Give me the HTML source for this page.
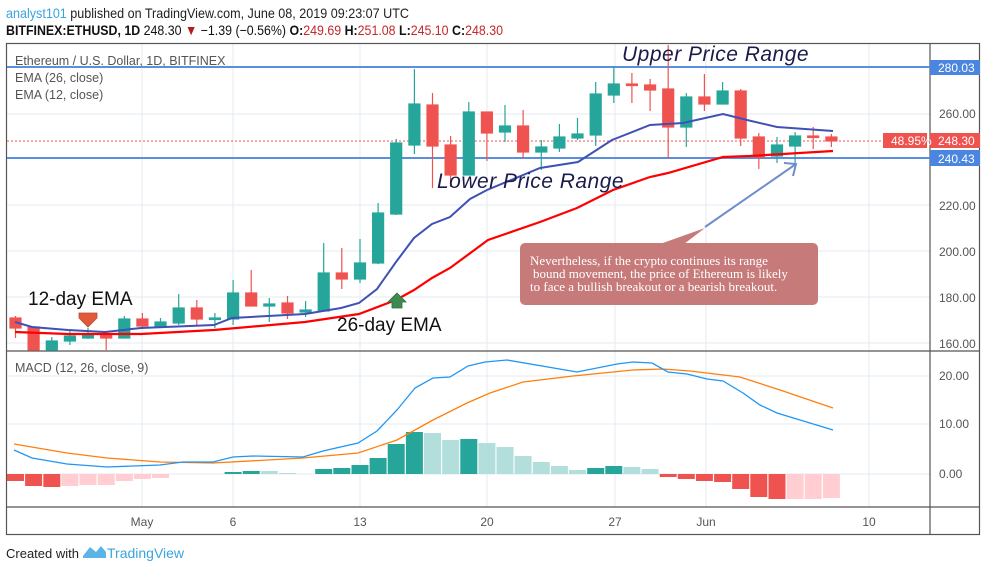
<!DOCTYPE html>
<html><head><meta charset="utf-8"><style>
body{margin:0;background:#fff;width:987px;height:571px;overflow:hidden;font-family:"Liberation Sans",sans-serif}
</style></head><body>
<svg width="987" height="571" xmlns="http://www.w3.org/2000/svg" font-family="Liberation Sans, sans-serif">
<rect width="987" height="571" fill="#fff"/>
<text x="6" y="18" font-size="14" fill="#222" textLength="403" lengthAdjust="spacingAndGlyphs"><tspan fill="#3aa4de">analyst101</tspan> published on TradingView.com, June 08, 2019 09:23:07 UTC</text>
<text x="6" y="35" font-size="14" fill="#111" textLength="497" lengthAdjust="spacingAndGlyphs"><tspan font-weight="bold">BITFINEX:ETHUSD, 1D</tspan> 248.30 <tspan fill="#b71c1c">▼</tspan> −1.39 (−0.56%) <tspan font-weight="bold">O:</tspan><tspan fill="#c62828">249.69</tspan> <tspan font-weight="bold">H:</tspan><tspan fill="#c62828">251.08</tspan> <tspan font-weight="bold">L:</tspan><tspan fill="#c62828">245.10</tspan> <tspan font-weight="bold">C:</tspan><tspan fill="#c62828">248.30</tspan></text>
<!-- grid -->
<g stroke="#e3ebf2" stroke-width="1">
<line x1="7" x2="930" y1="343" y2="343"/><line x1="7" x2="930" y1="297" y2="297"/><line x1="7" x2="930" y1="251" y2="251"/><line x1="7" x2="930" y1="205" y2="205"/><line x1="7" x2="930" y1="114" y2="114"/>
<line x1="7" x2="930" y1="376" y2="376"/><line x1="7" x2="930" y1="424" y2="424"/><line x1="7" x2="930" y1="474" y2="474"/>
<line x1="142" x2="142" y1="43" y2="507"/><line x1="233" x2="233" y1="43" y2="507"/><line x1="360" x2="360" y1="43" y2="507"/><line x1="487" x2="487" y1="43" y2="507"/><line x1="615" x2="615" y1="43" y2="507"/><line x1="706" x2="706" y1="43" y2="507"/><line x1="869" x2="869" y1="43" y2="507"/>
</g>
<!-- frame -->
<g stroke="#555" stroke-width="1.2" fill="none">
<rect x="6.5" y="43.5" width="973" height="491"/>
<line x1="6" x2="980" y1="351" y2="351"/><line x1="6" x2="980" y1="507" y2="507"/><line x1="930" x2="930" y1="43" y2="535"/>
</g>
<text x="15" y="65" font-size="12.5" fill="#555">Ethereum / U.S. Dollar, 1D, BITFINEX</text>
<text x="15" y="82" font-size="12.5" fill="#555">EMA (26, close)</text>
<text x="15" y="99" font-size="12.5" fill="#555">EMA (12, close)</text>
<!-- range lines -->
<line x1="7" x2="930" y1="67" y2="67" stroke="#5b8de0" stroke-width="2"/>
<line x1="7" x2="930" y1="158" y2="158" stroke="#5b8de0" stroke-width="2"/>
<line x1="7" x2="930" y1="141" y2="141" stroke="#ef5350" stroke-width="1" stroke-dasharray="2,2"/>
<!-- candles -->
<g stroke-width="1.2">
<g stroke="#ef5350" fill="#ef5350"><line x1="15.5" x2="15.5" y1="316" y2="338"/><rect x="10" y="318" width="11" height="10"/></g>
<g stroke="#ef5350" fill="#ef5350"><line x1="33.6" x2="33.6" y1="327" y2="350"/><rect x="28.1" y="327" width="11" height="23"/></g>
<g stroke="#26a69a" fill="#26a69a"><line x1="51.8" x2="51.8" y1="337" y2="350"/><rect x="46.3" y="341" width="11" height="9"/></g>
<g stroke="#26a69a" fill="#26a69a"><line x1="69.9" x2="69.9" y1="329" y2="345"/><rect x="64.4" y="336" width="11" height="5"/></g>
<g stroke="#26a69a" fill="#26a69a"><line x1="88" x2="88" y1="328" y2="339"/><rect x="82.5" y="335" width="11" height="3"/></g>
<g stroke="#ef5350" fill="#ef5350"><line x1="106.2" x2="106.2" y1="332" y2="350"/><rect x="100.7" y="334" width="11" height="4"/></g>
<g stroke="#26a69a" fill="#26a69a"><line x1="124.3" x2="124.3" y1="316" y2="338"/><rect x="118.8" y="319" width="11" height="19"/></g>
<g stroke="#ef5350" fill="#ef5350"><line x1="142.4" x2="142.4" y1="313" y2="329"/><rect x="136.9" y="319" width="11" height="7"/></g>
<g stroke="#26a69a" fill="#26a69a"><line x1="160.5" x2="160.5" y1="318" y2="328"/><rect x="155" y="322" width="11" height="4"/></g>
<g stroke="#26a69a" fill="#26a69a"><line x1="178.7" x2="178.7" y1="294" y2="325"/><rect x="173.2" y="308" width="11" height="15"/></g>
<g stroke="#ef5350" fill="#ef5350"><line x1="196.8" x2="196.8" y1="300" y2="326"/><rect x="191.3" y="308" width="11" height="11"/></g>
<g stroke="#26a69a" fill="#26a69a"><line x1="214.9" x2="214.9" y1="313" y2="328"/><rect x="209.4" y="318" width="11" height="1.5"/></g>
<g stroke="#26a69a" fill="#26a69a"><line x1="233.1" x2="233.1" y1="280" y2="325"/><rect x="227.6" y="293" width="11" height="26"/></g>
<g stroke="#ef5350" fill="#ef5350"><line x1="251.2" x2="251.2" y1="270" y2="306"/><rect x="245.7" y="293" width="11" height="13"/></g>
<g stroke="#26a69a" fill="#26a69a"><line x1="269.3" x2="269.3" y1="298" y2="322"/><rect x="263.8" y="304" width="11" height="2"/></g>
<g stroke="#ef5350" fill="#ef5350"><line x1="287.5" x2="287.5" y1="296" y2="319"/><rect x="282" y="303" width="11" height="10"/></g>
<g stroke="#26a69a" fill="#26a69a"><line x1="305.6" x2="305.6" y1="301" y2="317"/><rect x="300.1" y="310" width="11" height="2"/></g>
<g stroke="#26a69a" fill="#26a69a"><line x1="323.7" x2="323.7" y1="243" y2="311"/><rect x="318.2" y="273" width="11" height="38"/></g>
<g stroke="#ef5350" fill="#ef5350"><line x1="341.8" x2="341.8" y1="248" y2="289"/><rect x="336.3" y="273" width="11" height="6"/></g>
<g stroke="#26a69a" fill="#26a69a"><line x1="360" x2="360" y1="239" y2="283"/><rect x="354.5" y="263" width="11" height="16"/></g>
<g stroke="#26a69a" fill="#26a69a"><line x1="378.1" x2="378.1" y1="203" y2="264"/><rect x="372.6" y="213" width="11" height="50"/></g>
<g stroke="#26a69a" fill="#26a69a"><line x1="396.2" x2="396.2" y1="139" y2="215"/><rect x="390.7" y="143" width="11" height="71"/></g>
<g stroke="#26a69a" fill="#26a69a"><line x1="414.4" x2="414.4" y1="69" y2="154"/><rect x="408.9" y="104" width="11" height="41"/></g>
<g stroke="#ef5350" fill="#ef5350"><line x1="432.5" x2="432.5" y1="93" y2="188"/><rect x="427" y="105" width="11" height="41"/></g>
<g stroke="#ef5350" fill="#ef5350"><line x1="450.6" x2="450.6" y1="136" y2="187"/><rect x="445.1" y="145" width="11" height="30"/></g>
<g stroke="#26a69a" fill="#26a69a"><line x1="468.8" x2="468.8" y1="102" y2="175"/><rect x="463.3" y="112" width="11" height="63"/></g>
<g stroke="#ef5350" fill="#ef5350"><line x1="486.9" x2="486.9" y1="112" y2="161"/><rect x="481.4" y="112" width="11" height="21"/></g>
<g stroke="#26a69a" fill="#26a69a"><line x1="505" x2="505" y1="105" y2="142"/><rect x="499.5" y="126" width="11" height="6"/></g>
<g stroke="#ef5350" fill="#ef5350"><line x1="523.1" x2="523.1" y1="110" y2="158"/><rect x="517.6" y="126" width="11" height="26"/></g>
<g stroke="#26a69a" fill="#26a69a"><line x1="541.3" x2="541.3" y1="140" y2="170"/><rect x="535.8" y="147" width="11" height="5"/></g>
<g stroke="#26a69a" fill="#26a69a"><line x1="559.4" x2="559.4" y1="124" y2="152"/><rect x="553.9" y="137" width="11" height="11"/></g>
<g stroke="#26a69a" fill="#26a69a"><line x1="577.5" x2="577.5" y1="118" y2="140"/><rect x="572" y="134" width="11" height="4"/></g>
<g stroke="#26a69a" fill="#26a69a"><line x1="595.7" x2="595.7" y1="82" y2="146"/><rect x="590.2" y="94" width="11" height="41"/></g>
<g stroke="#26a69a" fill="#26a69a"><line x1="613.8" x2="613.8" y1="66" y2="103"/><rect x="608.3" y="84" width="11" height="11"/></g>
<g stroke="#ef5350" fill="#ef5350"><line x1="631.9" x2="631.9" y1="73" y2="103"/><rect x="626.4" y="84" width="11" height="1.5"/></g>
<g stroke="#ef5350" fill="#ef5350"><line x1="650.1" x2="650.1" y1="79" y2="111"/><rect x="644.6" y="85" width="11" height="5"/></g>
<g stroke="#ef5350" fill="#ef5350"><line x1="668.2" x2="668.2" y1="45" y2="158"/><rect x="662.7" y="89" width="11" height="38"/></g>
<g stroke="#26a69a" fill="#26a69a"><line x1="686.3" x2="686.3" y1="93" y2="147"/><rect x="680.8" y="97" width="11" height="30"/></g>
<g stroke="#ef5350" fill="#ef5350"><line x1="704.4" x2="704.4" y1="74" y2="111"/><rect x="698.9" y="97" width="11" height="7"/></g>
<g stroke="#26a69a" fill="#26a69a"><line x1="722.6" x2="722.6" y1="82" y2="104"/><rect x="717.1" y="91" width="11" height="13"/></g>
<g stroke="#ef5350" fill="#ef5350"><line x1="740.7" x2="740.7" y1="89" y2="146"/><rect x="735.2" y="91" width="11" height="47"/></g>
<g stroke="#ef5350" fill="#ef5350"><line x1="758.8" x2="758.8" y1="133" y2="169"/><rect x="753.3" y="137" width="11" height="20"/></g>
<g stroke="#26a69a" fill="#26a69a"><line x1="777" x2="777" y1="137" y2="163"/><rect x="771.5" y="145" width="11" height="11"/></g>
<g stroke="#26a69a" fill="#26a69a"><line x1="795.1" x2="795.1" y1="132" y2="163"/><rect x="789.6" y="136" width="11" height="10"/></g>
<g stroke="#ef5350" fill="#ef5350"><line x1="813.2" x2="813.2" y1="127" y2="149"/><rect x="807.7" y="136" width="11" height="1.5"/></g>
<g stroke="#ef5350" fill="#ef5350"><line x1="831.4" x2="831.4" y1="134" y2="147"/><rect x="825.9" y="137" width="11" height="4"/></g>
</g>
<!-- EMAs -->
<polyline fill="none" stroke="#3f51b5" stroke-width="2" points="15,322 32,327 68,330 105,332 141,328 214,325 232,318 268,316 305,314 341,308 359,303 377,289 396,262 414,238 432,224 450,217 470,199 487,190 540,168 578,162 612,140 650,125 683,123 723,114 747,120 777,127 833,131"/>
<polyline fill="none" stroke="#ff0000" stroke-width="2.2" points="15,332 68,334 141,334 214,330 305,322 359,314 396,300 414,290 432,278 450,268 488,240 540,222 577,208 613,190 650,177 668,173 723,157 750,156 833,151"/>
<!-- annotations -->
<text x="622" y="61" font-size="21" font-style="italic" fill="#1b1b4b" letter-spacing="0.5">Upper Price Range</text>
<text x="437" y="188" font-size="21" font-style="italic" fill="#1b1b4b" letter-spacing="0.5">Lower Price Range</text>
<text x="28" y="305" font-size="19" fill="#111">12-day EMA</text>
<text x="337" y="331" font-size="19" fill="#111">26-day EMA</text>
<polygon points="79,313 97,313 97,318 88,327 79,318" fill="#e05a3a" stroke="#b84a30" stroke-width="0.8"/>
<polygon points="397,293 406,302 402,302 402,308 392,308 392,302 388,302" fill="#3d8a50" stroke="#2f6e3f" stroke-width="0.8"/>
<line x1="705" y1="227" x2="796" y2="164" stroke="#6f8ccc" stroke-width="2"/>
<polyline points="784,163 796,164 793,176" fill="none" stroke="#6f8ccc" stroke-width="2"/>
<polygon points="660,244 705,228 684,244" fill="#c77a7a"/>
<rect x="520" y="243" width="298" height="62" rx="5" fill="#c77a7a"/>
<g font-family="Liberation Serif, serif" font-size="13" fill="#fff">
<text x="530" y="265">Nevertheless, if the crypto continues its range</text>
<text x="533" y="278">bound movement, the price of Ethereum is likely</text>
<text x="530" y="291">to face a bullish breakout or a bearish breakout.</text>
</g>
<!-- price axis -->
<g font-size="12" fill="#555">
<text x="939" y="118">260.00</text><text x="939" y="210">220.00</text><text x="939" y="256">200.00</text><text x="939" y="302">180.00</text><text x="939" y="348">160.00</text>
<text x="939" y="380">20.00</text><text x="939" y="428">10.00</text><text x="939" y="478">0.00</text>
</g>
<rect x="930" y="60" width="50" height="15" fill="#4a86e0"/><text x="938" y="72" font-size="12" fill="#fff">280.03</text>
<rect x="930" y="133" width="50" height="15" fill="#ef5350"/><text x="938" y="145" font-size="12" fill="#fff">248.30</text>
<rect x="883" y="133" width="44" height="15" fill="#ef5350"/><text x="891" y="145" font-size="12" fill="#fff">48.95%</text>
<rect x="930" y="150" width="50" height="16" fill="#4a86e0"/><text x="938" y="163" font-size="12" fill="#fff">240.43</text>
<!-- MACD -->
<text x="15" y="372" font-size="12.5" fill="#555">MACD (12, 26, close, 9)</text>
<g>
<rect x="7" y="474" width="17" height="7" fill="#ef5350"/>
<rect x="25.1" y="474" width="17" height="12" fill="#ef5350"/>
<rect x="43.3" y="474" width="17" height="13" fill="#ef5350"/>
<rect x="61.4" y="474" width="17" height="12" fill="#ffcdd2"/>
<rect x="79.5" y="474" width="17" height="11" fill="#ffcdd2"/>
<rect x="97.7" y="474" width="17" height="11" fill="#ffcdd2"/>
<rect x="115.8" y="474" width="17" height="7" fill="#ffcdd2"/>
<rect x="133.9" y="474" width="17" height="5" fill="#ffcdd2"/>
<rect x="152" y="474" width="17" height="4" fill="#ffcdd2"/>
<rect x="224.6" y="472" width="17" height="2" fill="#26a69a"/>
<rect x="242.7" y="471" width="17" height="3" fill="#26a69a"/>
<rect x="260.8" y="471" width="17" height="3" fill="#b2dfdb"/>
<rect x="279" y="473" width="17" height="1" fill="#b2dfdb"/>
<rect x="315.2" y="469" width="17" height="5" fill="#26a69a"/>
<rect x="333.3" y="468" width="17" height="6" fill="#26a69a"/>
<rect x="351.5" y="465" width="17" height="9" fill="#26a69a"/>
<rect x="369.6" y="458" width="17" height="16" fill="#26a69a"/>
<rect x="387.7" y="444" width="17" height="30" fill="#26a69a"/>
<rect x="405.9" y="432" width="17" height="42" fill="#26a69a"/>
<rect x="424" y="433" width="17" height="41" fill="#b2dfdb"/>
<rect x="442.1" y="440" width="17" height="34" fill="#b2dfdb"/>
<rect x="460.3" y="439" width="17" height="35" fill="#26a69a"/>
<rect x="478.4" y="443" width="17" height="31" fill="#b2dfdb"/>
<rect x="496.5" y="447" width="17" height="27" fill="#b2dfdb"/>
<rect x="514.6" y="456" width="17" height="18" fill="#b2dfdb"/>
<rect x="532.8" y="462" width="17" height="12" fill="#b2dfdb"/>
<rect x="550.9" y="466" width="17" height="8" fill="#b2dfdb"/>
<rect x="569" y="470" width="17" height="4" fill="#b2dfdb"/>
<rect x="587.2" y="468" width="17" height="6" fill="#26a69a"/>
<rect x="605.3" y="466" width="17" height="8" fill="#26a69a"/>
<rect x="623.4" y="467" width="17" height="7" fill="#b2dfdb"/>
<rect x="641.6" y="469" width="17" height="5" fill="#b2dfdb"/>
<rect x="659.7" y="474" width="17" height="3" fill="#ef5350"/>
<rect x="677.8" y="474" width="17" height="5" fill="#ef5350"/>
<rect x="695.9" y="474" width="17" height="7" fill="#ef5350"/>
<rect x="714.1" y="474" width="17" height="8" fill="#ef5350"/>
<rect x="732.2" y="474" width="17" height="15" fill="#ef5350"/>
<rect x="750.3" y="474" width="17" height="23" fill="#ef5350"/>
<rect x="768.5" y="474" width="17" height="25" fill="#ef5350"/>
<rect x="786.6" y="474" width="17" height="25" fill="#ffcdd2"/>
<rect x="804.7" y="474" width="17" height="25" fill="#ffcdd2"/>
<rect x="822.9" y="474" width="17" height="24" fill="#ffcdd2"/>
</g>
<polyline fill="none" stroke="#ff7f0e" stroke-width="1.3" points="14,444 67,453 107,458 160,462 213,463 303,458 358,453 397,440 433,420 467,403 490,393 523,382 573,376 633,370 663,369 690,371 740,377 780,390 833,408"/>
<polyline fill="none" stroke="#2196f3" stroke-width="1.3" points="14,450 32,458 67,464 107,467 160,465 183,462 213,462 233,457 253,456 303,457 323,451 358,443 377,431 397,410 415,388 433,378 450,377 468,366 485,362 507,360 577,372 617,364 633,362 652,363 668,372 687,374 707,379 723,381 743,393 760,405 777,413 833,430"/>
<!-- date axis -->
<g font-size="12" fill="#555" text-anchor="middle">
<text x="142" y="526">May</text><text x="233" y="526">6</text><text x="360" y="526">13</text><text x="487" y="526">20</text><text x="615" y="526">27</text><text x="706" y="526">Jun</text><text x="869" y="526">10</text>
</g>
<text x="6" y="558" font-size="13" fill="#222">Created with</text>
<path d="M83,556 L90,547 L96,552 L101,546 L106,552 L106,558 L83,558 Z" fill="#5ab4e6"/>
<text x="107" y="558" font-size="14" fill="#3aa4de">TradingView</text>
</svg>
</body></html>
